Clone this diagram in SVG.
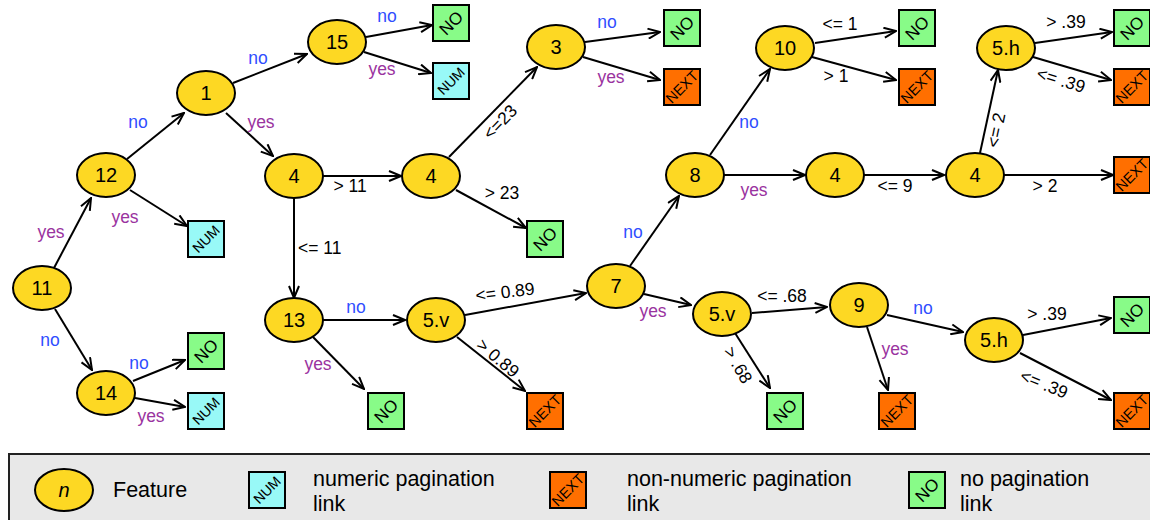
<svg xmlns="http://www.w3.org/2000/svg" width="1150" height="520" viewBox="0 0 1150 520">
<defs>
<style>
.feat ellipse{fill:#fdd823;stroke:#000;stroke-width:2}
.feat text{font:20px "Liberation Sans",Arial,sans-serif;text-anchor:middle;fill:#000}
.leaf rect{stroke:#000;stroke-width:2}
.leaf text{font:17px "Liberation Sans",Arial,sans-serif;text-anchor:middle;fill:#000}
.no rect{fill:#88fb88}
.num rect{fill:#98f9f7}
.num text{font-size:14px}
.next rect{fill:#ff6f00}
.next text{font-size:14.5px}
#edges line{stroke:#000;stroke-width:2;marker-end:url(#arr)}
#edges text{font:17.5px "Liberation Sans",Arial,sans-serif;text-anchor:middle;fill:#000}
#edges text.n{fill:#2f4dff}
#edges text.y{fill:#9a34a0}
.lg{font:21.5px "Liberation Sans",Arial,sans-serif;fill:#000}
</style>
<marker id="arr" viewBox="0 0 14 12" refX="13" refY="6" markerWidth="14" markerHeight="12" markerUnits="userSpaceOnUse" orient="auto">
<path d="M1,1 L13,6 L1,11" fill="none" stroke="#000" stroke-width="2"/>
</marker>
</defs>
<rect width="1150" height="520" fill="#fff"/>

<g id="edges">
<line x1="54" y1="268" x2="91" y2="198"/><text class="y" x="51" y="238">yes</text>
<line x1="55" y1="309" x2="92" y2="370"/><text class="n" x="50" y="346">no</text>
<line x1="127" y1="159" x2="184" y2="113"/><text class="n" x="138" y="128">no</text>
<line x1="130" y1="190" x2="187" y2="226"/><text class="y" x="125" y="223">yes</text>
<line x1="233" y1="83" x2="307" y2="54"/><text class="n" x="258" y="64">no</text>
<line x1="226" y1="113" x2="273" y2="156"/><text class="y" x="261" y="128">yes</text>
<line x1="366" y1="37" x2="432" y2="25"/><text class="n" x="387" y="22">no</text>
<line x1="364" y1="52" x2="431" y2="73"/><text class="y" x="382" y="75">yes</text>
<line x1="323" y1="176" x2="401" y2="176"/><text x="350" y="192">&gt; 11</text>
<line x1="449" y1="157" x2="537" y2="67"/><text x="500" y="128" transform="rotate(-46 500 122)">&lt;=23</text>
<line x1="456" y1="190" x2="526" y2="228"/><text x="502" y="199">&gt; 23</text>
<line x1="294" y1="198" x2="294" y2="298"/><text x="298" y="254" style="text-anchor:start">&lt;= 11</text>
<line x1="323" y1="320" x2="405" y2="320"/><text class="n" x="356" y="313">no</text>
<line x1="313" y1="337" x2="364" y2="389"/><text class="y" x="318" y="370">yes</text>
<line x1="465" y1="315" x2="586" y2="293"/><text x="505" y="298" transform="rotate(-7 505 292)">&lt;= 0.89</text>
<line x1="457" y1="337" x2="525" y2="391"/><text x="498" y="364" transform="rotate(40 498 358)">&gt; 0.89</text>
<line x1="630" y1="266" x2="679" y2="196"/><text class="n" x="633" y="238">no</text>
<line x1="644" y1="294" x2="691" y2="305"/><text class="y" x="653" y="317">yes</text>
<line x1="710" y1="155" x2="770" y2="69"/><text class="n" x="749" y="128">no</text>
<line x1="724" y1="175" x2="805" y2="175"/><text class="y" x="754" y="196">yes</text>
<line x1="815" y1="43" x2="896" y2="31"/><text x="840" y="30">&lt;= 1</text>
<line x1="812" y1="57" x2="896" y2="80"/><text x="836" y="82">&gt; 1</text>
<line x1="864" y1="175" x2="944" y2="175"/><text x="895" y="192">&lt;= 9</text>
<line x1="980" y1="153" x2="998" y2="70"/><text x="996" y="136" transform="rotate(-78 996 130)">&lt;= 2</text>
<line x1="1004" y1="175" x2="1113" y2="175"/><text x="1045" y="192">&gt; 2</text>
<line x1="1035" y1="43" x2="1112" y2="32"/><text x="1066" y="28">&gt; .39</text>
<line x1="1033" y1="57" x2="1111" y2="80"/><text x="1061" y="86" transform="rotate(17 1061 80)">&lt;= .39</text>
<line x1="752" y1="313" x2="827" y2="307"/><text x="782" y="302">&lt;= .68</text>
<line x1="735" y1="333" x2="770" y2="388"/><text x="738" y="371" transform="rotate(60 738 365)">&gt; .68</text>
<line x1="887" y1="315" x2="963" y2="332"/><text class="n" x="923" y="314">no</text>
<line x1="867" y1="327" x2="888" y2="390"/><text class="y" x="895" y="355">yes</text>
<line x1="1023" y1="335" x2="1111" y2="318"/><text x="1047" y="320">&gt; .39</text>
<line x1="1020" y1="353" x2="1111" y2="400"/><text x="1044" y="390" transform="rotate(22 1044 384)">&lt;= .39</text>
<line x1="585" y1="42" x2="660" y2="32"/><text class="n" x="607" y="28">no</text>
<line x1="583" y1="57" x2="660" y2="80"/><text class="y" x="611" y="83">yes</text>
<line x1="133" y1="381" x2="185" y2="360"/><text class="n" x="139" y="369">no</text>
<line x1="135" y1="398" x2="185" y2="407"/><text class="y" x="151" y="422">yes</text>
</g>

<!-- feature nodes -->
<g id="f11" class="feat"><ellipse cx="42" cy="288" rx="29" ry="22"/><text x="42" y="295">11</text></g>
<g id="f12" class="feat"><ellipse cx="106" cy="175" rx="29" ry="22"/><text x="106" y="182">12</text></g>
<g id="f14" class="feat"><ellipse cx="106" cy="393" rx="29" ry="22"/><text x="106" y="400">14</text></g>
<g id="f1" class="feat"><ellipse cx="206" cy="93" rx="29" ry="22"/><text x="206" y="100">1</text></g>
<g id="f15" class="feat"><ellipse cx="337" cy="42" rx="29" ry="22"/><text x="337" y="49">15</text></g>
<g id="f4a" class="feat"><ellipse cx="294" cy="176" rx="29" ry="22"/><text x="294" y="183">4</text></g>
<g id="f4b" class="feat"><ellipse cx="431" cy="176" rx="29" ry="22"/><text x="431" y="183">4</text></g>
<g id="f3" class="feat"><ellipse cx="556" cy="47" rx="29" ry="22"/><text x="556" y="54">3</text></g>
<g id="f13" class="feat"><ellipse cx="294" cy="320" rx="29" ry="22"/><text x="294" y="327">13</text></g>
<g id="f5va" class="feat"><ellipse cx="436" cy="320" rx="29" ry="22"/><text x="436" y="327">5.v</text></g>
<g id="f7" class="feat"><ellipse cx="616" cy="286" rx="29" ry="22"/><text x="616" y="293">7</text></g>
<g id="f8" class="feat"><ellipse cx="695" cy="175" rx="29" ry="22"/><text x="695" y="182">8</text></g>
<g id="f10" class="feat"><ellipse cx="785" cy="48" rx="29" ry="22"/><text x="785" y="55">10</text></g>
<g id="f4c" class="feat"><ellipse cx="835" cy="175" rx="29" ry="22"/><text x="835" y="182">4</text></g>
<g id="f4d" class="feat"><ellipse cx="975" cy="175" rx="29" ry="22"/><text x="975" y="182">4</text></g>
<g id="f5ha" class="feat"><ellipse cx="1006" cy="48" rx="29" ry="22"/><text x="1006" y="55">5.h</text></g>
<g id="f5vb" class="feat"><ellipse cx="722" cy="314" rx="29" ry="22"/><text x="722" y="321">5.v</text></g>
<g id="f9" class="feat"><ellipse cx="859" cy="305" rx="29" ry="22"/><text x="859" y="312">9</text></g>
<g id="f5hb" class="feat"><ellipse cx="994" cy="340" rx="29" ry="22"/><text x="994" y="347">5.h</text></g>

<!-- leaves -->
<g id="l15no" class="leaf no"><rect x="433" y="5" width="36" height="36"/><text transform="translate(451 23) rotate(-45)" y="6">NO</text></g>
<g id="l15num" class="leaf num"><rect x="433" y="63" width="36" height="36"/><text transform="translate(451 81) rotate(-45)" y="5">NUM</text></g>
<g id="l3no" class="leaf no"><rect x="664" y="10" width="36" height="36"/><text transform="translate(682 28) rotate(-45)" y="6">NO</text></g>
<g id="l3next" class="leaf next"><rect x="664" y="69" width="36" height="36"/><text transform="translate(682 87) rotate(-45)" y="5">NEXT</text></g>
<g id="l10no" class="leaf no"><rect x="899" y="10" width="36" height="36"/><text transform="translate(917 28) rotate(-45)" y="6">NO</text></g>
<g id="l10next" class="leaf next"><rect x="899" y="69" width="36" height="36"/><text transform="translate(917 87) rotate(-45)" y="5">NEXT</text></g>
<g id="l5hano" class="leaf no"><rect x="1114" y="10" width="36" height="36"/><text transform="translate(1132 28) rotate(-45)" y="6">NO</text></g>
<g id="l5hanext" class="leaf next"><rect x="1114" y="69" width="36" height="36"/><text transform="translate(1132 87) rotate(-45)" y="5">NEXT</text></g>
<g id="l4dnext" class="leaf next"><rect x="1114" y="157" width="36" height="36"/><text transform="translate(1132 175) rotate(-45)" y="5">NEXT</text></g>
<g id="l12num" class="leaf num"><rect x="188" y="221" width="36" height="36"/><text transform="translate(206 239) rotate(-45)" y="5">NUM</text></g>
<g id="l4bno" class="leaf no"><rect x="527" y="221" width="36" height="36"/><text transform="translate(545 239) rotate(-45)" y="6">NO</text></g>
<g id="l14no" class="leaf no"><rect x="188" y="333" width="36" height="36"/><text transform="translate(206 351) rotate(-45)" y="6">NO</text></g>
<g id="l14num" class="leaf num"><rect x="188" y="393" width="36" height="36"/><text transform="translate(206 411) rotate(-45)" y="5">NUM</text></g>
<g id="l13no" class="leaf no"><rect x="368" y="393" width="36" height="36"/><text transform="translate(386 411) rotate(-45)" y="6">NO</text></g>
<g id="l5vanext" class="leaf next"><rect x="527" y="393" width="36" height="36"/><text transform="translate(545 411) rotate(-45)" y="5">NEXT</text></g>
<g id="l5vbno" class="leaf no"><rect x="767" y="393" width="36" height="36"/><text transform="translate(785 411) rotate(-45)" y="6">NO</text></g>
<g id="l9next" class="leaf next"><rect x="879" y="393" width="36" height="36"/><text transform="translate(897 411) rotate(-45)" y="5">NEXT</text></g>
<g id="l5hbno" class="leaf no"><rect x="1114" y="297" width="36" height="36"/><text transform="translate(1132 315) rotate(-45)" y="6">NO</text></g>
<g id="l5hbnext" class="leaf next"><rect x="1114" y="393" width="36" height="36"/><text transform="translate(1132 411) rotate(-45)" y="5">NEXT</text></g>

<!-- key -->
<g id="legend">
<rect x="9" y="454" width="1150" height="80" fill="#e8e8e8" stroke="#222" stroke-width="2"/>
<g class="feat"><ellipse cx="64" cy="490" rx="29" ry="21"/><text x="64" y="497" style="font-style:italic">n</text></g>
<text class="lg" x="113" y="497">Feature</text>
<g class="leaf num"><rect x="249" y="472" width="36" height="36"/><text transform="translate(267 490) rotate(-45)" y="5">NUM</text></g>
<text class="lg" x="313" y="486">numeric pagination</text>
<text class="lg" x="313" y="511">link</text>
<g class="leaf next"><rect x="550" y="472" width="36" height="36"/><text transform="translate(568 490) rotate(-45)" y="5">NEXT</text></g>
<text class="lg" x="627" y="486">non-numeric pagination</text>
<text class="lg" x="627" y="511">link</text>
<g class="leaf no"><rect x="909" y="472" width="36" height="36"/><text transform="translate(927 490) rotate(-45)" y="6">NO</text></g>
<text class="lg" x="960" y="486">no pagination</text>
<text class="lg" x="960" y="511">link</text>
</g>
</svg>
